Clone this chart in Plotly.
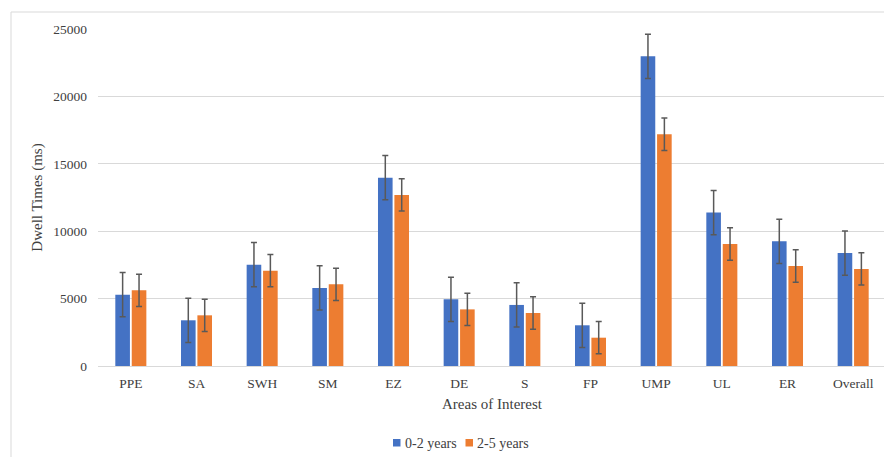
import plotly.graph_objects as go

categories = ["PPE", "SA", "SWH", "SM", "EZ", "DE", "S", "FP", "UMP", "UL", "ER", "Overall"]
young = [5290, 3390, 7515, 5790, 13970, 4950, 4530, 3020, 22970, 11380, 9250, 8380]
older = [5615, 3760, 7070, 6060, 12690, 4200, 3930, 2100, 17190, 9050, 7420, 7200]
young_err = [1640] * 12
older_err = [1200] * 12
series_names = ["0-2 years", "2-5 years"]
series_colors = ["#4472C4", "#ED7D31"]
y_ticks = [0, 5000, 10000, 15000, 20000, 25000]

FONT = "Liberation Serif, Times New Roman, serif"
OFF = 8  # page body margin offset
W, H = 892 - OFF, 457 - OFF
L, T = 98 - OFF, 29 - OFF
R = W - (886 - OFF)
B = H - (366 - OFF)
pw = W - L - R
ph = H - T - B

err_style = dict(type="data", color="#595959", thickness=1.5, width=3)

fig = go.Figure()
fig.add_trace(go.Bar(x=categories, y=young, name=series_names[0], marker_color=series_colors[0],
                     marker_line_width=0,
                     error_y=dict(array=young_err, **err_style)))
fig.add_trace(go.Bar(x=categories, y=older, name=series_names[1], marker_color=series_colors[1],
                     marker_line_width=0,
                     error_y=dict(array=older_err, **err_style)))

def px_x(x):
    return (x - OFF - L) / pw

def px_y(y):
    return (H - B - (y - OFF)) / ph

# legend built from squares + text (reference pixel positions)
legend_sq_x = [393, 465.5]
legend_txt_x = [402.5, 474.5]
legend_y = 443
annotations = []
shapes = [
    dict(type="line", xref="paper", yref="paper", x0=px_x(11), x1=px_x(900),
         y0=px_y(12), y1=px_y(12), line=dict(color="#d9d9d9", width=1)),
    dict(type="line", xref="paper", yref="paper", x0=px_x(11), x1=px_x(11),
         y0=px_y(12), y1=px_y(470), line=dict(color="#d9d9d9", width=1)),
]
for name, color, sx, tx in zip(series_names, series_colors, legend_sq_x, legend_txt_x):
    shapes.append(dict(type="rect", xref="paper", yref="paper",
                       x0=px_x(sx), x1=px_x(sx + 7.5), y0=px_y(legend_y - 4), y1=px_y(legend_y + 3.5),
                       fillcolor=color, line=dict(width=0)))
    annotations.append(dict(text=name, xref="paper", yref="paper", x=px_x(tx), y=px_y(legend_y),
                            xanchor="left", yanchor="middle", showarrow=False,
                            font=dict(family=FONT, size=14, color="#404040")))

fig.update_layout(
    width=W, height=H,
    margin=dict(l=L, r=R, t=T, b=B, autoexpand=False),
    paper_bgcolor="white", plot_bgcolor="white",
    barmode="group", bargap=0.5, bargroupgap=0.11,
    font=dict(family=FONT, size=13.5, color="#404040"),
    showlegend=False,
    xaxis=dict(showgrid=False, showline=False, zeroline=False, automargin=False,
               ticklabelstandoff=7,
               title=dict(text="Areas of Interest", font=dict(family=FONT, size=15, color="#404040"), standoff=8),
               tickfont=dict(family=FONT, size=13.5, color="#404040")),
    yaxis=dict(range=[0, 25000], tickvals=y_ticks, ticktext=[str(v) for v in y_ticks],
               showgrid=True, gridcolor="#d9d9d9", gridwidth=1, automargin=False,
               zeroline=True, zerolinecolor="#d9d9d9", zerolinewidth=1,
               showline=False, ticklabelstandoff=10,
               title=dict(text="Dwell Times (ms)", font=dict(family=FONT, size=15, color="#404040"), standoff=7),
               tickfont=dict(family=FONT, size=13.5, color="#404040")),
    annotations=annotations,
    shapes=shapes,
)

fig.write_html("out.html")
